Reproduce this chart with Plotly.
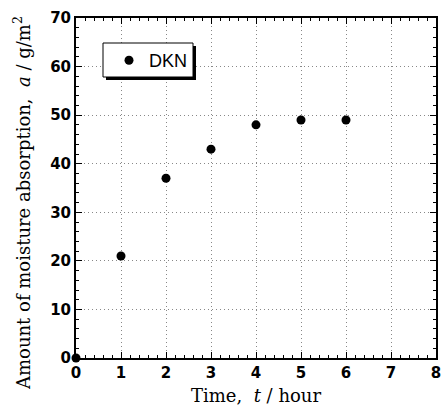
import plotly.graph_objects as go

time_h = [0, 1, 2, 3, 4, 5, 6]
absorption = [0, 21, 37, 43, 48, 49, 49]
series_name = "DKN"
x_title = "Time,&nbsp; <i>t</i> / hour"
y_title = "Amount of moisture absorption,&nbsp; <i>a</i> / g/m<sup>2</sup>"

fig = go.Figure()
fig.add_trace(go.Scatter(
    x=time_h, y=absorption, mode="markers", name=series_name,
    marker=dict(color="black", size=9, symbol="circle"),
    cliponaxis=False,
))

# legend box with shadow (paper coords)
L, R, T, B = 76, 436, 18, 358
def px(x):
    return (x - L) / (R - L)
def py(y):
    return (B - y) / (B - T)

fig.add_shape(type="rect", xref="paper", yref="paper",
              x0=px(106), x1=px(196), y0=py(80), y1=py(46),
              fillcolor="black", line=dict(width=0), layer="above")
fig.add_shape(type="rect", xref="paper", yref="paper",
              x0=px(103), x1=px(193), y0=py(77), y1=py(43),
              fillcolor="white", line=dict(color="black", width=1), layer="above")

axis_common = dict(
    showline=True, linewidth=2, linecolor="black", mirror="allticks",
    ticks="inside", ticklen=6, tickwidth=1, tickcolor="black",
    showgrid=True, gridcolor="#888", gridwidth=1, griddash="1px,3px",
    zeroline=False, automargin=False, ticklabeloverflow="allow",
    tickfont=dict(family="DejaVu Sans", size=15, color="black", weight="bold"),
)

fig.update_xaxes(range=[0, 8], dtick=1, tick0=0,
                 minor=dict(ticks="inside", ticklen=3, dtick=0.2, tickcolor="black", showgrid=False),
                 **axis_common)
fig.update_yaxes(range=[0, 70], dtick=10, tick0=0,
                 minor=dict(ticks="inside", ticklen=3, dtick=2, tickcolor="black", showgrid=False),
                 **axis_common)

fig.add_annotation(text=x_title, xref="paper", yref="paper", x=px(256), y=py(395),
                   xanchor="center", yanchor="middle", showarrow=False,
                   font=dict(family="DejaVu Serif", size=18, color="black"))
fig.add_annotation(text=y_title, xref="paper", yref="paper", x=px(22), y=py(203),
                   xanchor="center", yanchor="middle", showarrow=False, textangle=-90,
                   font=dict(family="DejaVu Serif", size=18, color="black"))

fig.update_layout(
    width=444, height=407,
    margin=dict(l=L, r=444 - R, t=T, b=407 - B),
    plot_bgcolor="white", paper_bgcolor="white",
    showlegend=True,
    legend=dict(x=px(109), y=py(42), xanchor="left", yanchor="top",
                bgcolor="rgba(0,0,0,0)", borderwidth=0,
                font=dict(family="Liberation Sans", size=18, color="black"),
                itemwidth=30),
)

fig.write_html("out.html", config={"displayModeBar": False})

with open("out.html", "r", encoding="utf-8") as f:
    html = f.read()
html = html.replace("<body>", '<body style="margin:0;overflow:hidden">', 1)
with open("out.html", "w", encoding="utf-8") as f:
    f.write(html)
